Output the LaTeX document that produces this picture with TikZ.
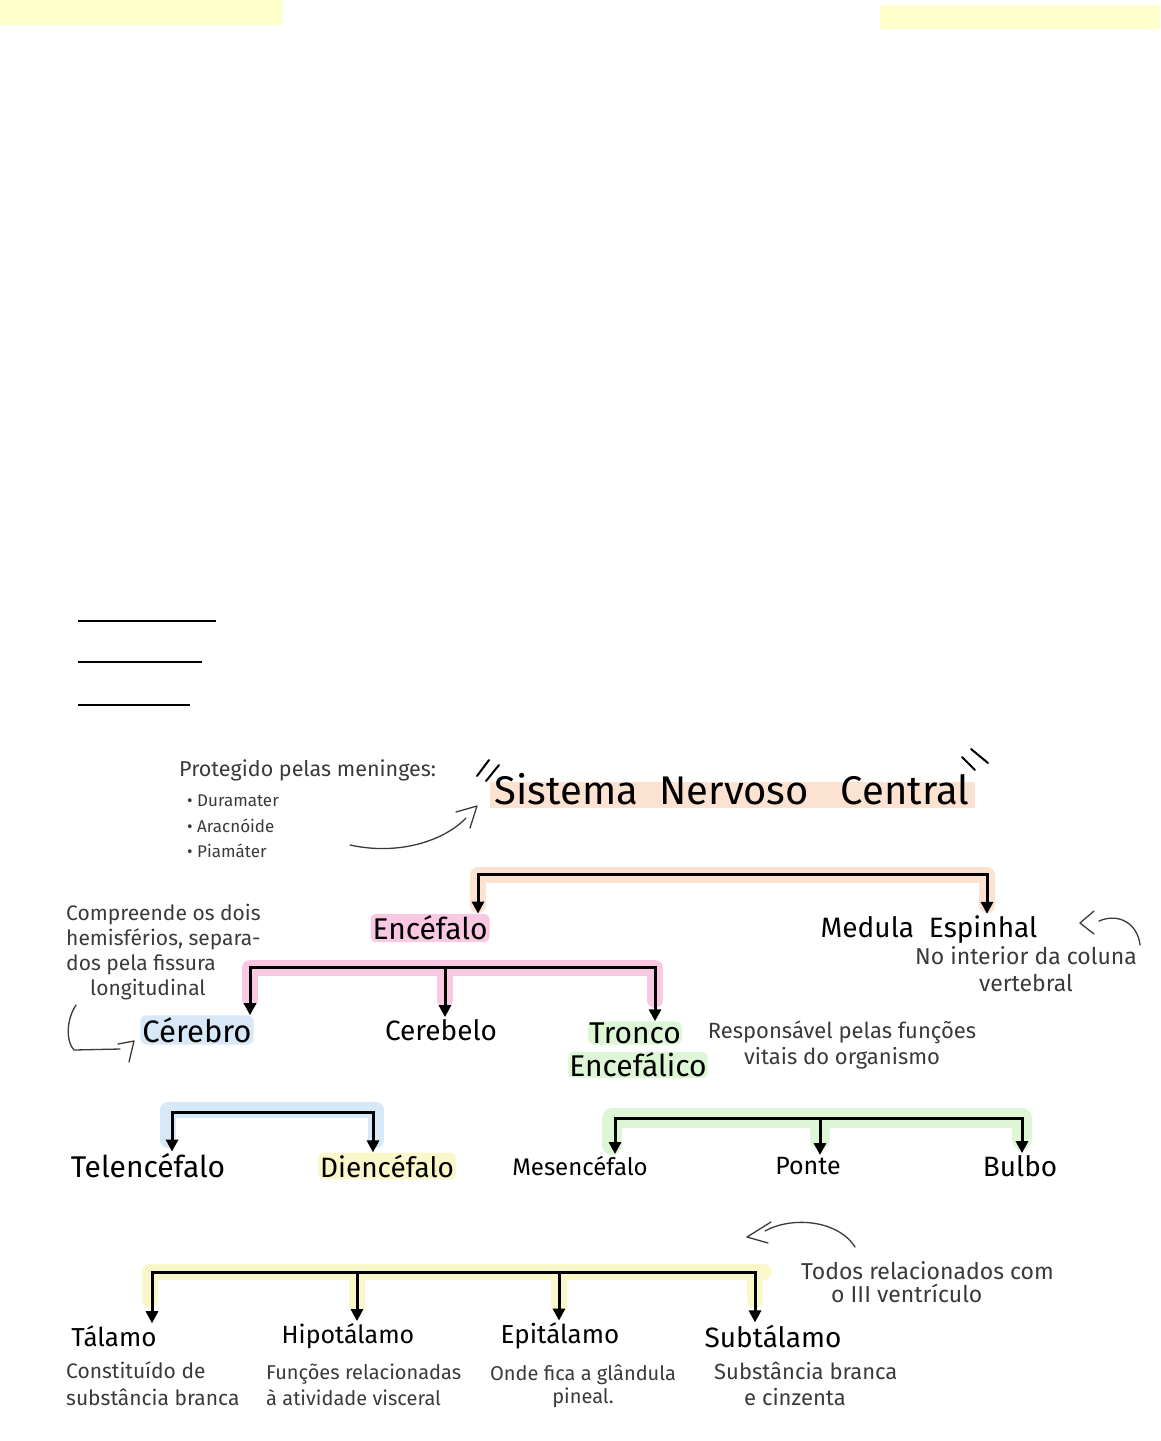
\documentclass[tikz,border=0pt]{standalone}
\usepackage{fontspec}
\setmainfont{Fira Sans}
\usetikzlibrary{arrows.meta}

\definecolor{paper}{HTML}{FFFFCC}
\definecolor{hlorange}{HTML}{FCE2D0}
\definecolor{hlpink}{HTML}{F9C8E2}
\definecolor{hlblue}{HTML}{D7E8F8}
\definecolor{hlgreen}{HTML}{DDF6D5}
\definecolor{hlyellow}{HTML}{FAF8CA}
\definecolor{pen}{HTML}{3A3A3A}

\newcommand{\fsz}[1]{\fontsize{#1}{1.2\dimexpr#1pt\relax}\selectfont}

\tikzset{
  part/.style={font=\fsz{27}, inner sep=2pt},
  tagged/.style={part, fill=#1, rounded corners=6pt},
  note/.style={font=\fsz{21}, text=pen, inner sep=1pt},
  bracket/.style={line width=3pt, line cap=rect},
  arr/.style={line width=3pt, -{Triangle[length=12pt,width=12pt]}},
  marker/.style={line width=16pt, line cap=round, line join=round, draw=#1},
  pencurve/.style={pen, line width=1.3pt, line cap=round, line join=round},
}

\begin{document}
\begin{tikzpicture}[x=1pt,y=-1pt]
    \useasboundingbox (0,0) rectangle (1160,1441);

    % sticky strips and blank lines
    \fill[paper] (0,0) rectangle (282,25);
    \fill[paper] (880,5) rectangle (1160,29);
    \draw[line width=2pt] (78,621) -- (216,621);
    \draw[line width=2pt] (78,662) -- (202,662);
    \draw[line width=2pt] (78,705) -- (190,705);

    % title
    \fill[hlorange] (490,782) rectangle (975,808);
    \node[font=\fsz{40}] (snc) at (732,789) {Sistema\ \ Nervoso\ \ \ Central};
    \draw[pencurve, black, line width=2pt] (477,776) -- (489,760) (486,781) -- (499,765);
    \draw[pencurve, black, line width=2pt] (962,757) -- (975,770) (971,749) -- (988,763);

    \node[note, anchor=west, font=\fsz{21.5}] (prot) at (178,770) {Protegido pelas meninges:};
    \node[note, anchor=west, font=\fsz{17}] (dura) at (186,801) {• Duramater};
    \node[note, anchor=west, font=\fsz{17}] (arac) at (186,826) {• Aracnóide};
    \node[note, anchor=west, font=\fsz{17}] (pia) at (186,851) {• Piamáter};
    \draw[pencurve] (350,845) .. controls (400,856) and (445,840) .. (466,818);
    \draw[pencurve] (456,812) -- (477,806) -- (470,828);

    % highlighter strokes
    \draw[marker=hlorange] (478,905) -- (478,875) -- (987,875) -- (987,905);
    \draw[marker=hlpink] (250,1000) -- (250,968) -- (655,968) -- (655,1000) (445,968) -- (445,1000);
    \draw[marker=hlblue] (168,1140) -- (168,1110) -- (376,1110) -- (376,1140);
    \draw[marker=hlgreen, line width=20pt] (612,1145) -- (612,1118) -- (1022,1118) -- (1022,1140) (820,1118) -- (820,1140);
    \draw[marker=hlyellow] (150,1300) -- (150,1272) -- (764,1272) (357,1272) -- (357,1305) (559,1272) -- (559,1305) (755,1272) -- (755,1300);

    % level 1
    \node[tagged=hlpink, font=\fsz{30}] (enc) at (430,928) {Encéfalo};
    \node[part, font=\fsz{28}] (med) at (929,930) {Medula\ \ Espinhal};
    \node[note, align=center, font=\fsz{23}] (mednote) at (1026,969) {No interior da coluna\\vertebral};
    \draw[pencurve] (1094,911) -- (1080,923) -- (1094,934);
    \draw[pencurve] (1099,921) .. controls (1120,912) and (1138,925) .. (1140,945);

    \coordinate (s1) at (478,874);
    \coordinate (s2) at (987,874);
    \draw[bracket] (s1) -- (s2);
    \draw[arr] (s1) -- (s1 |- enc.north);
    \draw[arr] (s2) -- (s2 |- med.north);

    % level 2
    \node[note, anchor=north west, align=left, font=\fontsize{21}{25}\selectfont] (comp) at (65,903) {Compreende os dois\\hemisférios, separa-\\dos pela fissura\\\hspace*{24pt}longitudinal};
    \draw[pencurve] (76,1005) .. controls (66,1020) and (66,1042) .. (74,1050) -- (120,1049);
    \draw[pencurve] (118,1044) -- (134,1041) -- (129,1062);

    \node[tagged=hlblue, font=\fsz{31}] (cer) at (197,1030) {Cérebro};
    \node[part, font=\fsz{28}] (cbl) at (441,1030) {Cerebelo};
    \node[tagged=hlgreen, inner sep=1pt, font=\fsz{30}] (trn) at (635,1033) {Tronco};
    \node[tagged=hlgreen, inner sep=1pt, font=\fsz{30}] (trn2) at (638,1065) {Encefálico};
    \node[note, align=center, font=\fontsize{22}{26}\selectfont] (resp) at (842,1045) {Responsável pelas funções\\vitais do organismo};

    \coordinate (e1) at (250,967);
    \coordinate (e2) at (445,967);
    \coordinate (e3) at (655,967);
    \draw[bracket] (e1) -- (e3);
    \draw[arr] (e1) -- (e1 |- cer.north);
    \draw[arr] (e2) -- (e2 |- cbl.north);
    \draw[arr] (e3) -- (e3 |- trn.north);

    % level 3
    \node[part, font=\fsz{30}] (tel) at (148,1166) {Telencéfalo};
    \node[tagged=hlyellow, font=\fsz{28}] (die) at (387,1166) {Diencéfalo};
    \node[part, font=\fsz{24}] (mes) at (580,1166) {Mesencéfalo};
    \node[part, font=\fsz{25}] (pon) at (808,1166) {Ponte};
    \node[part, font=\fsz{28}] (bul) at (1020,1166) {Bulbo};

    \coordinate (c1) at (172,1112);
    \coordinate (c2) at (373,1112);
    \draw[bracket] (c1) -- (c2);
    \draw[arr] (c1) -- (c1 |- tel.north);
    \draw[arr] (c2) -- (c2 |- die.north);

    \coordinate (t1) at (615,1118);
    \coordinate (t2) at (820,1118);
    \coordinate (t3) at (1022,1118);
    \draw[bracket] (t1) -- (t3);
    \draw[arr] (t1) -- (t1 |- mes.north);
    \draw[arr] (t2) -- (t2 |- pon.north);
    \draw[arr] (t3) -- (t3 |- bul.north);

    % level 4
    \node[note, anchor=west, align=left, font=\fontsize{23}{23}\selectfont] (todos) at (800,1282) {Todos relacionados com\\\hspace*{30pt}o III ventrículo};
    \draw[pencurve] (855,1247) .. controls (838,1220) and (792,1216) .. (765,1231);
    \draw[pencurve] (771,1222) -- (747,1237) -- (768,1243);

    \node[part, font=\fsz{26}] (tal) at (114,1336) {Tálamo};
    \node[part, font=\fsz{25}] (hip) at (348,1336) {Hipotálamo};
    \node[part, font=\fsz{26}] (epi) at (560,1336) {Epitálamo};
    \node[part, font=\fsz{28}] (sub) at (773,1336) {Subtálamo};

    \coordinate (d1) at (152,1272);
    \coordinate (d2) at (357,1272);
    \coordinate (d3) at (559,1272);
    \coordinate (d4) at (755,1272);
    \draw[bracket] (d1) -- (d4);
    \draw[arr] (d1) -- (d1 |- tal.north);
    \draw[arr] (d2) -- (d2 |- hip.north);
    \draw[arr] (d3) -- (d3 |- epi.north);
    \draw[arr] (d4) -- (d4 |- sub.north);

    \node[note, anchor=west, align=left, font=\fontsize{21}{27}\selectfont] (taln) at (65,1384) {Constituído de\\substância branca};
    \node[note, anchor=west, align=left, font=\fontsize{20}{26}\selectfont] (hipn) at (265,1385) {Funções relacionadas\\à atividade visceral};
    \node[note, align=center, font=\fontsize{20}{23}\selectfont] (epin) at (583,1386) {Onde fica a glândula\\pineal.};
    \node[note, anchor=west, align=left, font=\fontsize{22}{26}\selectfont] (subn) at (713,1384) {Substância branca\\\hspace*{30pt}e cinzenta};
\end{tikzpicture}
\end{document}
